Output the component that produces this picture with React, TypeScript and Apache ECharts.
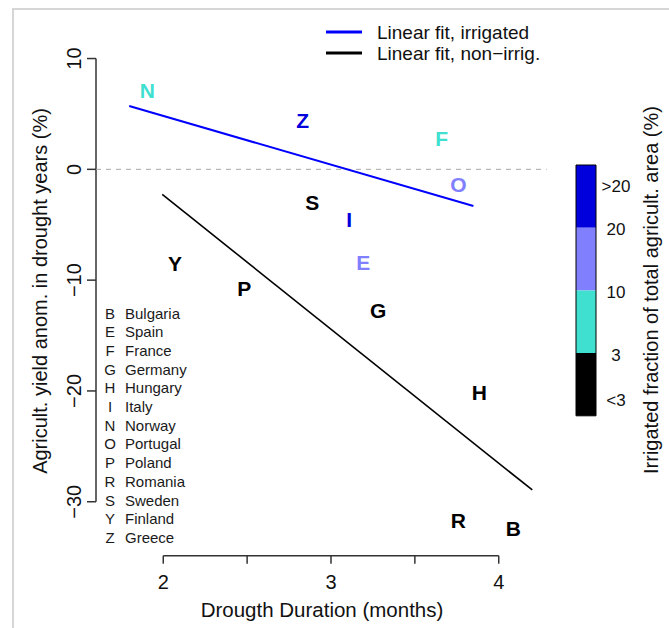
import React, { useEffect, useRef } from "react";
import * as echarts from "echarts";

// ---- Data ----
const countryCodes = ["N", "Z", "F", "O", "S", "I", "E", "Y", "P", "G", "H", "R", "B"];
const droughtDuration = [1.905, 2.831, 3.66, 3.759, 2.888, 3.109, 3.192, 2.07, 2.483, 3.282, 3.884, 3.759, 4.087];
const yieldAnomaly = [7.16, 4.45, 2.8, -1.35, -3.01, -4.51, -8.39, -8.48, -10.74, -12.76, -20.15, -31.65, -32.38];
// 0: <3, 1: 3-10, 2: 10-20, 3: >20
const irrigationClass = [1, 3, 1, 2, 0, 3, 2, 0, 0, 0, 0, 0, 0];

const irrigatedFitX = [1.797, 3.849];
const irrigatedFitY = [5.71, -3.31];
const nonIrrigatedFitX = [1.994, 4.2];
const nonIrrigatedFitY = [-2.26, -28.94];

const classColors = ["#000000", "#40E0D0", "#8080FF", "#0000DC"];
const colorbarLabels = ["<3", "3", "10", "20", ">20"];

const xTicks = [2, 2.5, 3, 3.5, 4];
const xTickLabels = ["2", "", "3", "", "4"];
const yTicks = [10, 0, -10, -20, -30];
const yTickLabels = ["10", "0", "\u221210", "\u221220", "\u221230"];

const legendCodes = ["B", "E", "F", "G", "H", "I", "N", "O", "P", "R", "S", "Y", "Z"];
const legendNames = ["Bulgaria", "Spain", "France", "Germany", "Hungary", "Italy", "Norway", "Portugal", "Poland", "Romania", "Sweden", "Finland", "Greece"];

const fitLegendLabels = ["Linear fit, irrigated", "Linear fit, non\u2212irrig."];
const fitColors = ["#0000FF", "#000000"];

const xAxisTitle = "Drougth Duration (months)";
const yAxisTitle = "Agricult. yield anom. in drought years (%)";
const colorbarTitle = "Irrigated fraction of total agricult. area (%)";

// ---- Layout ----
const X_MIN = 1.599;
const X_MAX = 4.286;
const Y_MIN = -34.87;
const Y_MAX = 13;
const FF = "'Liberation Sans', Arial, Helvetica, sans-serif";
const AXIS_COLOR = "#333333";

function txt(text: string, x: number, y: number, font: string, align: string, vAlign: string, fill = "#111", rotation = 0) {
  return {
    type: "text",
    x,
    y,
    rotation,
    style: {
      text,
      font,
      fill,
      align,
      verticalAlign: vAlign,
      textAlign: align,
      textVerticalAlign: vAlign,
    },
  };
}

export default function App() {
  const ref = useRef<HTMLDivElement>(null);

  useEffect(() => {
    if (!ref.current) return;
    const chart = echarts.init(ref.current, null, { renderer: "svg" });

    const graphics: any[] = [];
    // outer frame
    graphics.push({
      type: "rect",
      shape: { x: 13, y: 9, width: 720, height: 720 },
      style: { fill: "none", stroke: "#d6d6d6", lineWidth: 2 },
      z: -10,
    });
    // fit legend
    fitLegendLabels.forEach((lab, i) => {
      const y = 32 + i * 21;
      graphics.push({
        type: "line",
        shape: { x1: 326, y1: y, x2: 362, y2: y },
        style: { stroke: fitColors[i], lineWidth: 3 },
      });
      graphics.push(txt(lab, 377, y, `19px ${FF}`, "left", "middle", "#111"));
    });
    // country legend
    legendCodes.forEach((c, i) => {
      const y = 313.3 + i * 18.67;
      graphics.push(txt(c, 110, y, `15px ${FF}`, "center", "middle", "#1a1a1a"));
      graphics.push(txt(legendNames[i], 125, y, `15px ${FF}`, "left", "middle", "#1a1a1a"));
    });
    // colorbar
    const cbX = 576, cbW = 20, cbTop = 165, segH = 62.7;
    const nSeg = classColors.length;
    for (let k = 0; k < nSeg; k++) {
      const cls = nSeg - 1 - k;
      graphics.push({
        type: "rect",
        shape: { x: cbX, y: cbTop + k * segH, width: cbW, height: segH },
        style: { fill: classColors[cls], stroke: "none" },
      });
    }
    graphics.push({
      type: "rect",
      shape: { x: cbX, y: cbTop, width: cbW, height: segH * nSeg },
      style: { fill: "none", stroke: "#000", lineWidth: 1 },
    });
    const cbBottom = cbTop + segH * nSeg;
    colorbarLabels.forEach((lab, i) => {
      let y: number;
      if (i === 0) y = cbBottom - 15;
      else if (i === colorbarLabels.length - 1) y = cbTop + 21;
      else y = cbBottom - i * segH + 2;
      graphics.push(txt(lab, 616, y, `17px ${FF}`, "center", "middle", "#111"));
    });
    graphics.push(txt(colorbarTitle, 651, 290, `20px ${FF}`, "center", "middle", "#111", Math.PI / 2));
    // axis titles
    graphics.push(txt(xAxisTitle, 322, 609, `20.5px ${FF}`, "center", "middle", "#111"));
    graphics.push(txt(yAxisTitle, 40, 291, `20px ${FF}`, "center", "middle", "#111", Math.PI / 2));

    const option: any = {
      animation: false,
      backgroundColor: "#ffffff",
      grid: { left: 96, top: 25.3, width: 450.7, height: 530.4, containLabel: false },
      xAxis: { type: "value", min: X_MIN, max: X_MAX, show: false },
      yAxis: { type: "value", min: Y_MIN, max: Y_MAX, show: false },
      graphic: { elements: graphics },
      series: [
        {
          type: "line",
          data: [[X_MIN, 0], [X_MAX, 0]],
          symbol: "none",
          silent: true,
          lineStyle: { color: "#a8a8a8", width: 1, type: [5, 5] },
        },
        {
          type: "line",
          data: irrigatedFitX.map((x, i) => [x, irrigatedFitY[i]]),
          symbol: "none",
          silent: true,
          lineStyle: { color: fitColors[0], width: 2 },
        },
        {
          type: "line",
          data: nonIrrigatedFitX.map((x, i) => [x, nonIrrigatedFitY[i]]),
          symbol: "none",
          silent: true,
          lineStyle: { color: fitColors[1], width: 1.6 },
        },
        {
          type: "custom",
          silent: true,
          clip: false,
          data: droughtDuration.map((x, i) => [x, yieldAnomaly[i], irrigationClass[i]]),
          renderItem: (params: any, api: any) => {
            const p = api.coord([api.value(0), api.value(1)]);
            const i = params.dataIndex;
            return txt(countryCodes[i], p[0], p[1], `bold 21px ${FF}`, "center", "middle", classColors[api.value(2)]);
          },
        },
        {
          type: "custom",
          silent: true,
          clip: false,
          data: [[X_MIN, Y_MIN]],
          renderItem: (params: any, api: any) => {
            const children: any[] = [];
            const [xa0, yb] = api.coord([xTicks[0], Y_MIN]);
            const [xa1] = api.coord([xTicks[xTicks.length - 1], Y_MIN]);
            children.push({ type: "line", shape: { x1: xa0, y1: yb, x2: xa1, y2: yb }, style: { stroke: AXIS_COLOR, lineWidth: 1.5 } });
            xTicks.forEach((t, i) => {
              const [px] = api.coord([t, Y_MIN]);
              children.push({ type: "line", shape: { x1: px, y1: yb, x2: px, y2: yb + 8 }, style: { stroke: AXIS_COLOR, lineWidth: 1.5 } });
              if (xTickLabels[i]) children.push(txt(xTickLabels[i], px, yb + 26, `20px ${FF}`, "center", "middle", "#111"));
            });
            const [xl, yt0] = api.coord([X_MIN, yTicks[0]]);
            const [, yt1] = api.coord([X_MIN, yTicks[yTicks.length - 1]]);
            children.push({ type: "line", shape: { x1: xl, y1: yt0, x2: xl, y2: yt1 }, style: { stroke: AXIS_COLOR, lineWidth: 1.5 } });
            yTicks.forEach((t, i) => {
              const [, py] = api.coord([X_MIN, t]);
              children.push({ type: "line", shape: { x1: xl - 9, y1: py, x2: xl, y2: py }, style: { stroke: AXIS_COLOR, lineWidth: 1.5 } });
              children.push(txt(yTickLabels[i], xl - 22, py, `20px ${FF}`, "center", "middle", "#111", Math.PI / 2));
            });
            return { type: "group", children };
          },
        },
      ],
    };
    chart.setOption(option);
    return () => chart.dispose();
  }, []);

  return (
    <div
      ref={ref}
      style={{ position: "absolute", left: 0, top: 0, width: 669, height: 628, background: "#fff" }}
    />
  );
}
